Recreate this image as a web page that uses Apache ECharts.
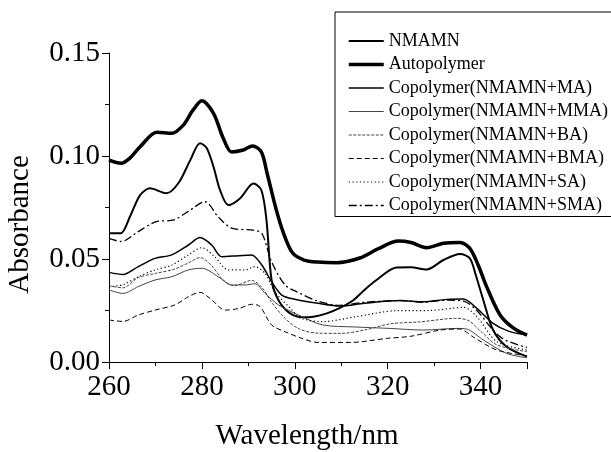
<!DOCTYPE html>
<html>
<head>
<meta charset="utf-8">
<script src="https://cdn.jsdelivr.net/npm/echarts@6/dist/echarts.min.js"></script>
<style>
  html, body { margin: 0; padding: 0; background: #fff; }
  #main { width: 611px; height: 452px; }
</style>
</head>
<body>
<div id="main"></div>
<script>
// absorbance spectra, [wavelength nm, absorbance]
var nmamn = [[260,0.0625],[262.5,0.0625],[264.5,0.0705],[266.7,0.081],[268.8,0.0843],[272.4,0.0819],[275,0.087],[277.5,0.098],[279.6,0.1062],[281,0.104],[282.5,0.0948],[283.9,0.0835],[285.7,0.0762],[288.2,0.0794],[291.1,0.0867],[292.8,0.0835],[293.9,0.069],[295,0.0398],[296.5,0.030],[299,0.0236],[301.8,0.0217],[304,0.022],[306.9,0.0236],[309.5,0.026],[312.6,0.030],[315,0.035],[317.6,0.0398],[321.9,0.0459],[325,0.046],[328.4,0.0449],[332,0.0495],[335.6,0.0524],[337.7,0.0503],[339,0.042],[340.6,0.030],[342.7,0.0155],[345.6,0.0074],[350,0.0026]];
var autopolymer = [[260,0.098],[262.6,0.0965],[264.5,0.099],[266.7,0.1045],[270.3,0.1115],[273.5,0.111],[276,0.115],[278,0.122],[280,0.1268],[282.5,0.1207],[284.6,0.1086],[286.4,0.102],[288.9,0.1029],[290.9,0.1049],[292.8,0.102],[294,0.092],[296,0.074],[297.5,0.063],[299.5,0.053],[302,0.0495],[305,0.0485],[309,0.0482],[314,0.0505],[318,0.055],[322.3,0.0587],[325,0.058],[328.4,0.0555],[332,0.0576],[335.6,0.058],[337.7,0.0552],[339.5,0.047],[341.3,0.0366],[344.2,0.0228],[347.1,0.0164],[350,0.0131]];
var coMA = [[260,0.0435],[263,0.0425],[266.3,0.0463],[269.9,0.0503],[273.5,0.052],[277.1,0.0568],[279.6,0.0604],[282.1,0.0568],[284.3,0.0511],[287.8,0.0516],[290.7,0.052],[292.9,0.0471],[295,0.039],[297.2,0.0325],[300,0.0305],[305,0.0285],[309.7,0.0272],[315,0.0285],[322.7,0.0298],[327.6,0.0293],[332.7,0.0304],[336.3,0.0306],[339.2,0.026],[342.7,0.0188],[346,0.015],[350,0.0131]];
var coMMA = [[260,0.035],[263,0.0333],[266.3,0.0366],[269.9,0.0398],[273.5,0.0414],[277.1,0.0447],[280,0.0455],[283.5,0.0414],[286.4,0.0374],[289.3,0.0374],[291.4,0.038],[293.6,0.0333],[296.5,0.0277],[300.8,0.0228],[306,0.018],[313,0.017],[320.5,0.0163],[327.6,0.0155],[334.9,0.0163],[337,0.016],[340.6,0.0107],[345.6,0.0042],[350,0.002]];
var coBA = [[260,0.037],[263,0.036],[266.3,0.041],[270,0.043],[274,0.045],[277,0.048],[279.6,0.0507],[282,0.047],[284.5,0.040],[287,0.037],[290.7,0.0396],[293,0.036],[295,0.029],[298,0.021],[301,0.016],[305,0.014],[310,0.0139],[315,0.0155],[320.5,0.0185],[327,0.0195],[334.9,0.0212],[337.5,0.020],[340,0.015],[343.5,0.0083],[350,0.005]];
var coBMA = [[260,0.0204],[263,0.0197],[266.3,0.0228],[269.9,0.0252],[274.2,0.0277],[277.1,0.0317],[279.6,0.0338],[282,0.0304],[285,0.0252],[288,0.026],[290.7,0.028],[292.5,0.027],[295,0.018],[297.9,0.0147],[301.5,0.0115],[305,0.0095],[312,0.0095],[320,0.0115],[325,0.0125],[331.3,0.0155],[335.5,0.016],[338.5,0.012],[343.5,0.0058],[350,0.003]];
var coSA = [[260,0.0366],[263,0.0375],[266.3,0.0414],[269.9,0.0447],[273.5,0.047],[277.1,0.052],[280,0.0555],[282.8,0.051],[285.7,0.0447],[289.3,0.0447],[291.4,0.0463],[293.6,0.043],[295.7,0.0341],[299.3,0.0255],[301,0.0215],[306,0.0196],[313.2,0.022],[321.9,0.0249],[329.1,0.025],[336.3,0.0265],[339.2,0.022],[343.5,0.0099],[350,0.0058]];
var coSMA = [[260,0.060],[262.6,0.0585],[266.3,0.0633],[270,0.068],[274,0.069],[277,0.073],[280.7,0.0778],[283.5,0.0705],[286.4,0.065],[291,0.064],[292.9,0.0625],[295,0.0487],[297.9,0.0374],[300.5,0.034],[305,0.0295],[309.7,0.0275],[315,0.029],[322.7,0.0298],[327.6,0.029],[332.7,0.030],[336.3,0.0296],[339.2,0.025],[342.5,0.016],[345,0.011],[350,0.007]];

var names = ['NMAMN', 'Autopolymer', 'Copolymer(NMAMN+MA)', 'Copolymer(NMAMN+MMA)',
  'Copolymer(NMAMN+BA)', 'Copolymer(NMAMN+BMA)', 'Copolymer(NMAMN+SA)', 'Copolymer(NMAMN+SMA)'];

var font = '"Liberation Serif", "Times New Roman", serif';

function line(name, data, width, type, color) {
  return {
    name: name,
    type: 'line',
    data: data,
    smooth: 0.3,
    symbol: 'none',
    lineStyle: { width: width, type: type, color: color || '#000' },
    itemStyle: { color: color || '#000' }
  };
}

var myChart = echarts.init(document.getElementById('main'));

var option = {
  animation: false,
  backgroundColor: '#fff',
  grid: { left: 109, right: 84, top: 53, bottom: 90, outerBoundsMode: 'none', containLabel: false },
  legend: {
    orient: 'vertical',
    left: 335,
    top: 12,
    padding: [19, 8, 1, 12],
    borderColor: '#000',
    borderWidth: 1,
    itemWidth: 35,
    itemHeight: 14,
    itemGap: 3.5,
    // hide the marker dot, keep the line sample
    itemStyle: { opacity: 0, borderWidth: 0 },
    lineStyle: { width: 'inherit' },
    textStyle: { fontFamily: font, fontSize: 18, color: '#000', lineHeight: 20 },
    data: names
  },
  xAxis: {
    type: 'value',
    min: 260,
    max: 350,
    interval: 20,
    name: 'Wavelength/nm',
    nameLocation: 'middle',
    nameGap: 60,
    nameTextStyle: { fontFamily: font, fontSize: 29, color: '#000', padding: [0, 22, 0, 0] },
    axisLine: { lineStyle: { color: '#000', width: 1 } },
    axisTick: { inside: false, length: 7, lineStyle: { color: '#000' } },
    minorTick: { show: true, splitNumber: 2, length: 4, lineStyle: { color: '#000' } },
    axisLabel: { fontFamily: font, fontSize: 29, color: '#000', margin: 11, showMaxLabel: false },
    splitLine: { show: false }
  },
  yAxis: {
    type: 'value',
    min: 0,
    max: 0.15,
    interval: 0.05,
    name: 'Absorbance',
    nameLocation: 'middle',
    nameGap: 74,
    nameTextStyle: { fontFamily: font, fontSize: 29, color: '#000', padding: [0, 34, 0, 0] },
    axisLine: { show: true, lineStyle: { color: '#000', width: 1 } },
    axisTick: { show: true, inside: false, length: 7, lineStyle: { color: '#000' } },
    minorTick: { show: true, splitNumber: 2, length: 4, lineStyle: { color: '#000' } },
    axisLabel: {
      fontFamily: font, fontSize: 29, color: '#000', margin: 9,
      formatter: function (v) { return v.toFixed(2); }
    },
    splitLine: { show: false }
  },
  series: [
    line(names[0], nmamn, 2, 'solid'),
    line(names[1], autopolymer, 3.5, 'solid'),
    line(names[2], coMA, 1.5, 'solid'),
    line(names[3], coMMA, 1, 'solid', '#444'),
    line(names[4], coBA, 1, [3, 1.5], '#444'),
    line(names[5], coBMA, 1, [5, 3]),
    line(names[6], coSA, 1.2, [1.2, 2.5]),
    line(names[7], coSMA, 1.3, [8, 3, 2, 3])
  ]
};

myChart.setOption(option);
</script>
</body>
</html>
